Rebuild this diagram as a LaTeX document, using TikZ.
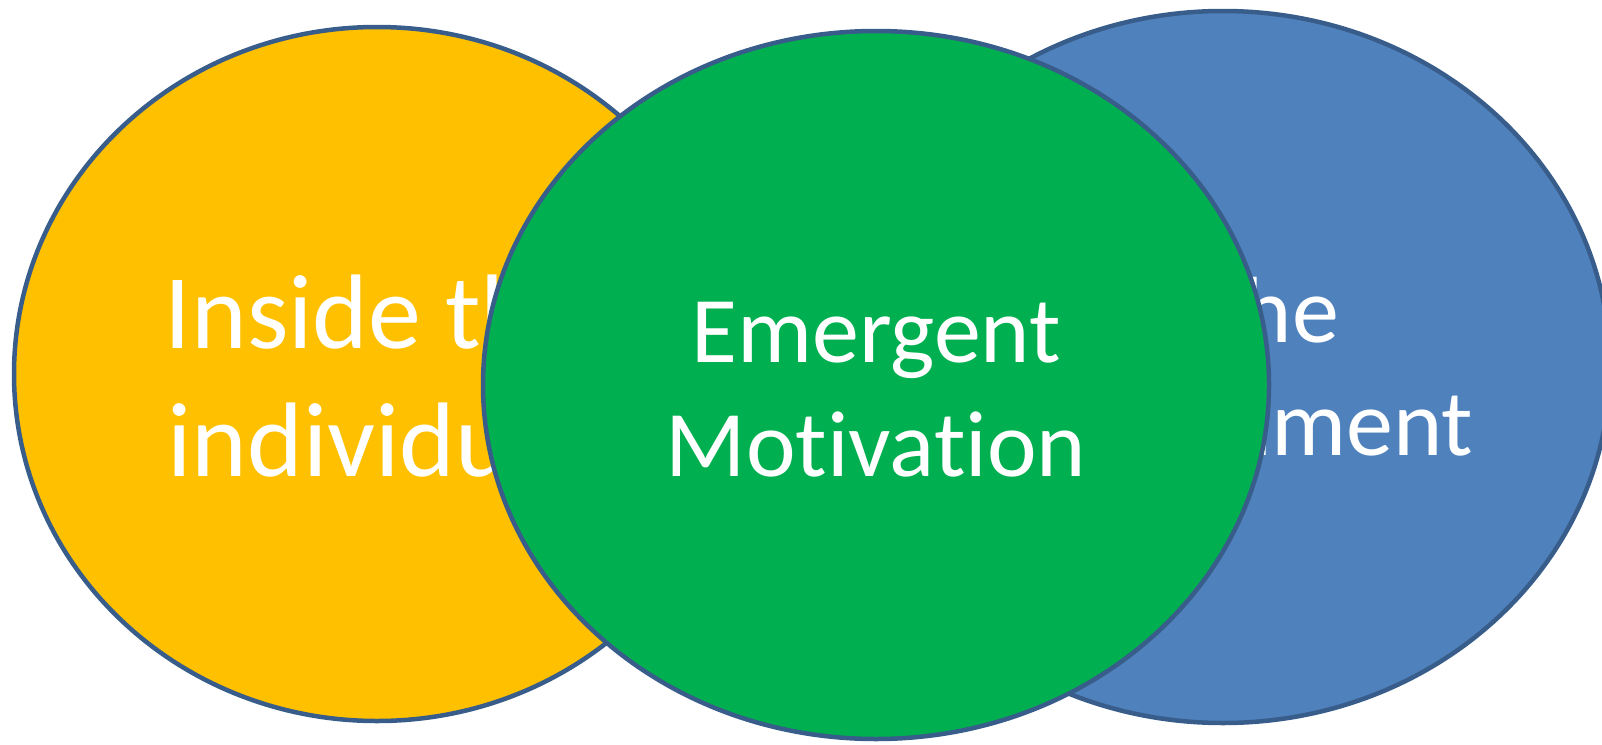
\documentclass[tikz,border=0pt]{standalone}
\usepackage{fontspec}
\setmainfont{Carlito}[RawFeature={-liga}]
\usetikzlibrary{shapes.geometric}
\definecolor{yel}{HTML}{FFC000}
\definecolor{grn}{HTML}{00B050}
\definecolor{blu}{HTML}{4F81BD}
\definecolor{edgeblue}{HTML}{385D8A}
\begin{document}
\begin{tikzpicture}[x=1pt,y=-1pt,
  blob/.style={ellipse, draw=edgeblue, line width=4.5pt, inner sep=0pt},
  lbl/.style={text=white, align=center, anchor=base, inner sep=0pt}]
\useasboundingbox (0,0) rectangle (1602,744);
\clip (0,0) rectangle (1602,744);
\node[blob, fill=yel, minimum width=726pt, minimum height=694pt] (yellow) at (377,374) {};
\node[lbl, font=\fontsize{106}{128}\selectfont] (tin) at (377,476) {Inside the\\individual};
\node[blob, fill=blu, minimum width=774pt, minimum height=712pt] (blue) at (1223,367) {};
\node[lbl, font=\fontsize{94}{113}\selectfont] (tenv) at (1228,455) {In the\\environment};
\node[blob, fill=grn, minimum width=786pt, minimum height=708pt] (green) at (876,385) {};
\node[lbl, font=\fontsize{94}{114}\selectfont] (temg) at (876,476) {Emergent\\Motivation};
\end{tikzpicture}
\end{document}
